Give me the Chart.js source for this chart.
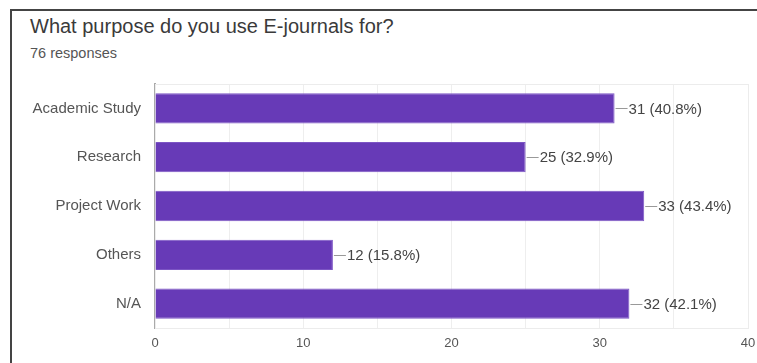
<!DOCTYPE html>
<html>
<head>
<meta charset="utf-8">
<script src="https://cdn.jsdelivr.net/npm/chart.js@4.4.1/dist/chart.umd.min.js"></script>
<style>
  html, body { margin: 0; padding: 0; background: #fff; }
  #wrap { position: relative; width: 757px; height: 363px; overflow: hidden; }
  #frame { position: absolute; left: 10px; top: 9px; width: 760px; height: 400px;
           border-top: 2px solid #444; border-left: 2px solid #444; }
  #title { position: absolute; left: 30px; top: 15px; font: 20px "Liberation Sans", Arial, sans-serif; color: #3a3a3a; }
  #sub { position: absolute; left: 30px; top: 45px; font: 14.5px "Liberation Sans", Arial, sans-serif; color: #555; }
  canvas { position: absolute; left: 0; top: 0; }
</style>
</head>
<body>
<div id="wrap">
  <div id="frame"></div>
  <div id="title">What purpose do you use E-journals for?</div>
  <div id="sub">76 responses</div>
  <canvas id="chart" width="757" height="363"></canvas>
</div>
<script>
  const categories = ['Academic Study', 'Research', 'Project Work', 'Others', 'N/A'];
  const counts = [31, 25, 33, 12, 32];
  const percents = ['40.8%', '32.9%', '43.4%', '15.8%', '42.1%'];
  const xTicks = [0, 10, 20, 30, 40];

  // faint frame around the plot area
  const plotFrame = {
    id: 'plotFrame',
    beforeDatasetsDraw(chart) {
      const a = chart.chartArea, ctx = chart.ctx;
      ctx.save();
      ctx.strokeStyle = '#ececec';
      ctx.lineWidth = 1;
      ctx.strokeRect(a.left + 0.5, a.top + 0.5, a.right - a.left, a.bottom - a.top);
      ctx.restore();
    }
  };

  // value labels with a short leader line
  const valueLabels = {
    id: 'valueLabels',
    afterDatasetsDraw(chart) {
      const ctx = chart.ctx;
      const meta = chart.getDatasetMeta(0);
      ctx.save();
      ctx.font = '15px "Liberation Sans", Arial, sans-serif';
      ctx.textBaseline = 'middle';
      meta.data.forEach((bar, i) => {
        ctx.strokeStyle = '#999';
        ctx.lineWidth = 1;
        ctx.beginPath();
        ctx.moveTo(bar.x + 1, Math.round(bar.y) + 0.5);
        ctx.lineTo(bar.x + 13, Math.round(bar.y) + 0.5);
        ctx.stroke();
        ctx.fillStyle = '#444';
        ctx.fillText(counts[i] + ' (' + percents[i] + ')', bar.x + 14, bar.y + 1);
      });
      ctx.restore();
    }
  };

  new Chart(document.getElementById('chart'), {
    type: 'bar',
    data: {
      labels: categories,
      datasets: [{
        data: counts,
        backgroundColor: '#673ab7',
        borderColor: '#7c55c4',
        borderWidth: 1,
        borderSkipped: 'left',
        categoryPercentage: 1,
        barPercentage: 0.62
      }]
    },
    options: {
      indexAxis: 'y',
      responsive: false,
      animation: false,
      layout: { padding: { left: 0, top: 84, right: 9, bottom: 0 } },
      plugins: { legend: { display: false }, tooltip: { enabled: false } },
      scales: {
        x: {
          min: 0,
          max: 40,
          afterFit(s) { s.height = 35; s.paddingRight = 0; s.paddingLeft = 0; },
          ticks: {
            stepSize: 5,
            autoSkip: false,
            maxRotation: 0,
            padding: 8,
            color: '#555',
            font: { family: '"Liberation Sans", Arial, sans-serif', size: 13 },
            callback: v => xTicks.includes(v) ? String(v) : ''
          },
          grid: { color: '#eeeeee', drawTicks: false },
          border: { display: false }
        },
        y: {
          afterFit(s) { s.width = 155; },
          ticks: {
            padding: 14,
            color: '#555',
            font: { family: '"Liberation Sans", Arial, sans-serif', size: 15 }
          },
          grid: { display: false, drawTicks: false },
          border: { display: true, color: '#aaaaaa', width: 2 }
        }
      }
    },
    plugins: [plotFrame, valueLabels]
  });
</script>
</body>
</html>
